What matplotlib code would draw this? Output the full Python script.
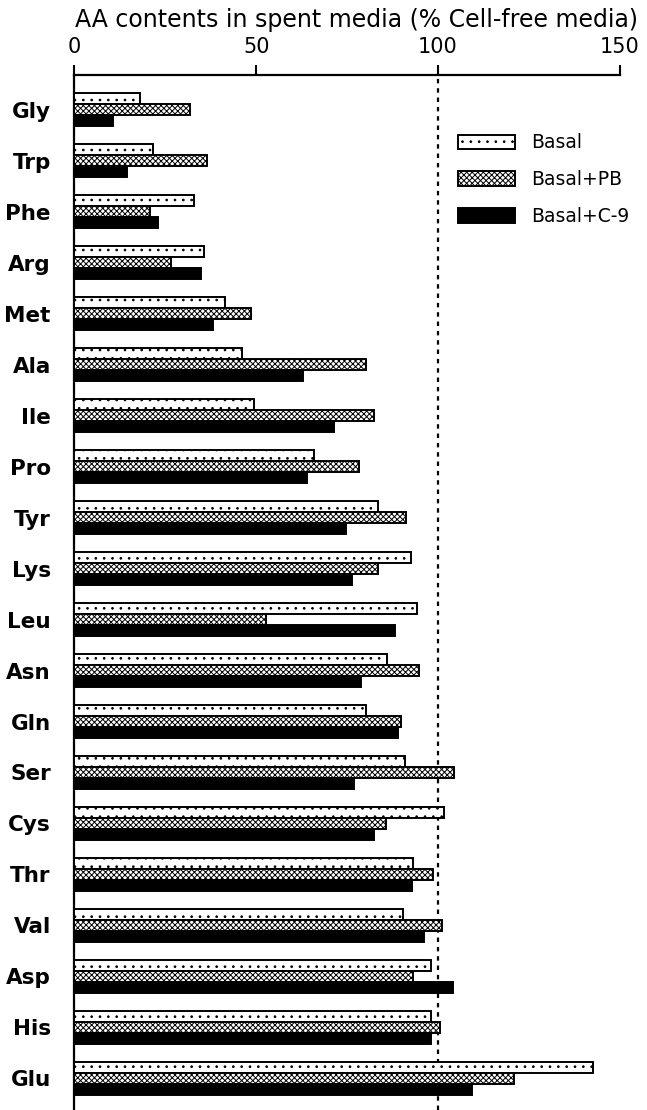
import numpy as np
import matplotlib
matplotlib.use("Agg")
import matplotlib.pyplot as plt

# amino acids, top to bottom
amino_acids = ["Gly", "Trp", "Phe", "Arg", "Met", "Ala", "Ile", "Pro", "Tyr", "Lys",
               "Leu", "Asn", "Gln", "Ser", "Cys", "Thr", "Val", "Asp", "His", "Glu"]

# % of cell-free media
basal = [18.1, 21.5, 32.9, 35.7, 41.5, 46.2, 49.4, 66.0, 83.5, 92.6,
         94.3, 85.9, 80.1, 91.0, 101.7, 93.1, 90.3, 98.2, 98.0, 142.6]
basal_pb = [31.7, 36.6, 20.9, 26.7, 48.6, 80.2, 82.3, 78.2, 91.1, 83.4,
            52.7, 94.8, 89.8, 104.4, 85.6, 98.6, 101.1, 93.1, 100.6, 121.0]
basal_c9 = [10.5, 14.4, 23.0, 34.9, 38.0, 62.8, 71.5, 64.0, 74.6, 76.4,
            88.3, 78.8, 88.9, 77.0, 82.3, 92.9, 96.1, 104.0, 98.2, 109.4]

series_labels = ["Basal", "Basal+PB", "Basal+C-9"]
x_ticks = [0, 50, 100, 150]

plt.rcParams["font.family"] = ["DejaVu Sans"]
plt.rcParams["hatch.linewidth"] = 0.7

fig = plt.figure(figsize=(6.47, 11.1), dpi=100)
ax = fig.add_axes([0.115, 0.0, 0.843, 0.9324])

y = np.arange(len(amino_acids))
h = 0.215
ax.barh(y - h, basal, height=h, color="white", edgecolor="black", linewidth=1.4,
        hatch="..", label=series_labels[0], zorder=3)
ax.barh(y, basal_pb, height=h, color="white", edgecolor="black", linewidth=1.4,
        hatch="xxxxxx", label=series_labels[1], zorder=3)
ax.barh(y + h, basal_c9, height=h, color="black", edgecolor="black", linewidth=1.4,
        label=series_labels[2], zorder=3)

ax.axvline(100, color="black", linestyle=(0, (2, 2.2)), linewidth=1.6, zorder=1)

ax.set_xlim(0, 150)
ax.set_ylim(19.62, -0.68)
ax.xaxis.tick_top()
ax.set_xticks(x_ticks)
ax.tick_params(axis="x", direction="out", length=7, width=1.5, labelsize=15, pad=6)
ax.set_yticks(y)
ax.set_yticklabels(amino_acids, fontsize=15.5, fontweight="bold")
ax.tick_params(axis="y", length=0, pad=17)

ax.spines["right"].set_visible(False)
ax.spines["bottom"].set_visible(False)
ax.spines["top"].set_linewidth(1.6)
ax.spines["left"].set_linewidth(1.6)

fig.text(0.551, 0.982, "AA contents in spent media (% Cell-free media)",
         ha="center", va="center", fontsize=17)

ax.legend(loc="upper left", bbox_to_anchor=(0.697, 0.8865),
          bbox_transform=fig.transFigure, frameon=False,
          fontsize=13.5, handlelength=3.0, handleheight=0.85,
          labelspacing=0.95, handletextpad=0.85, borderaxespad=0)

fig.savefig("out.png", dpi=100)
